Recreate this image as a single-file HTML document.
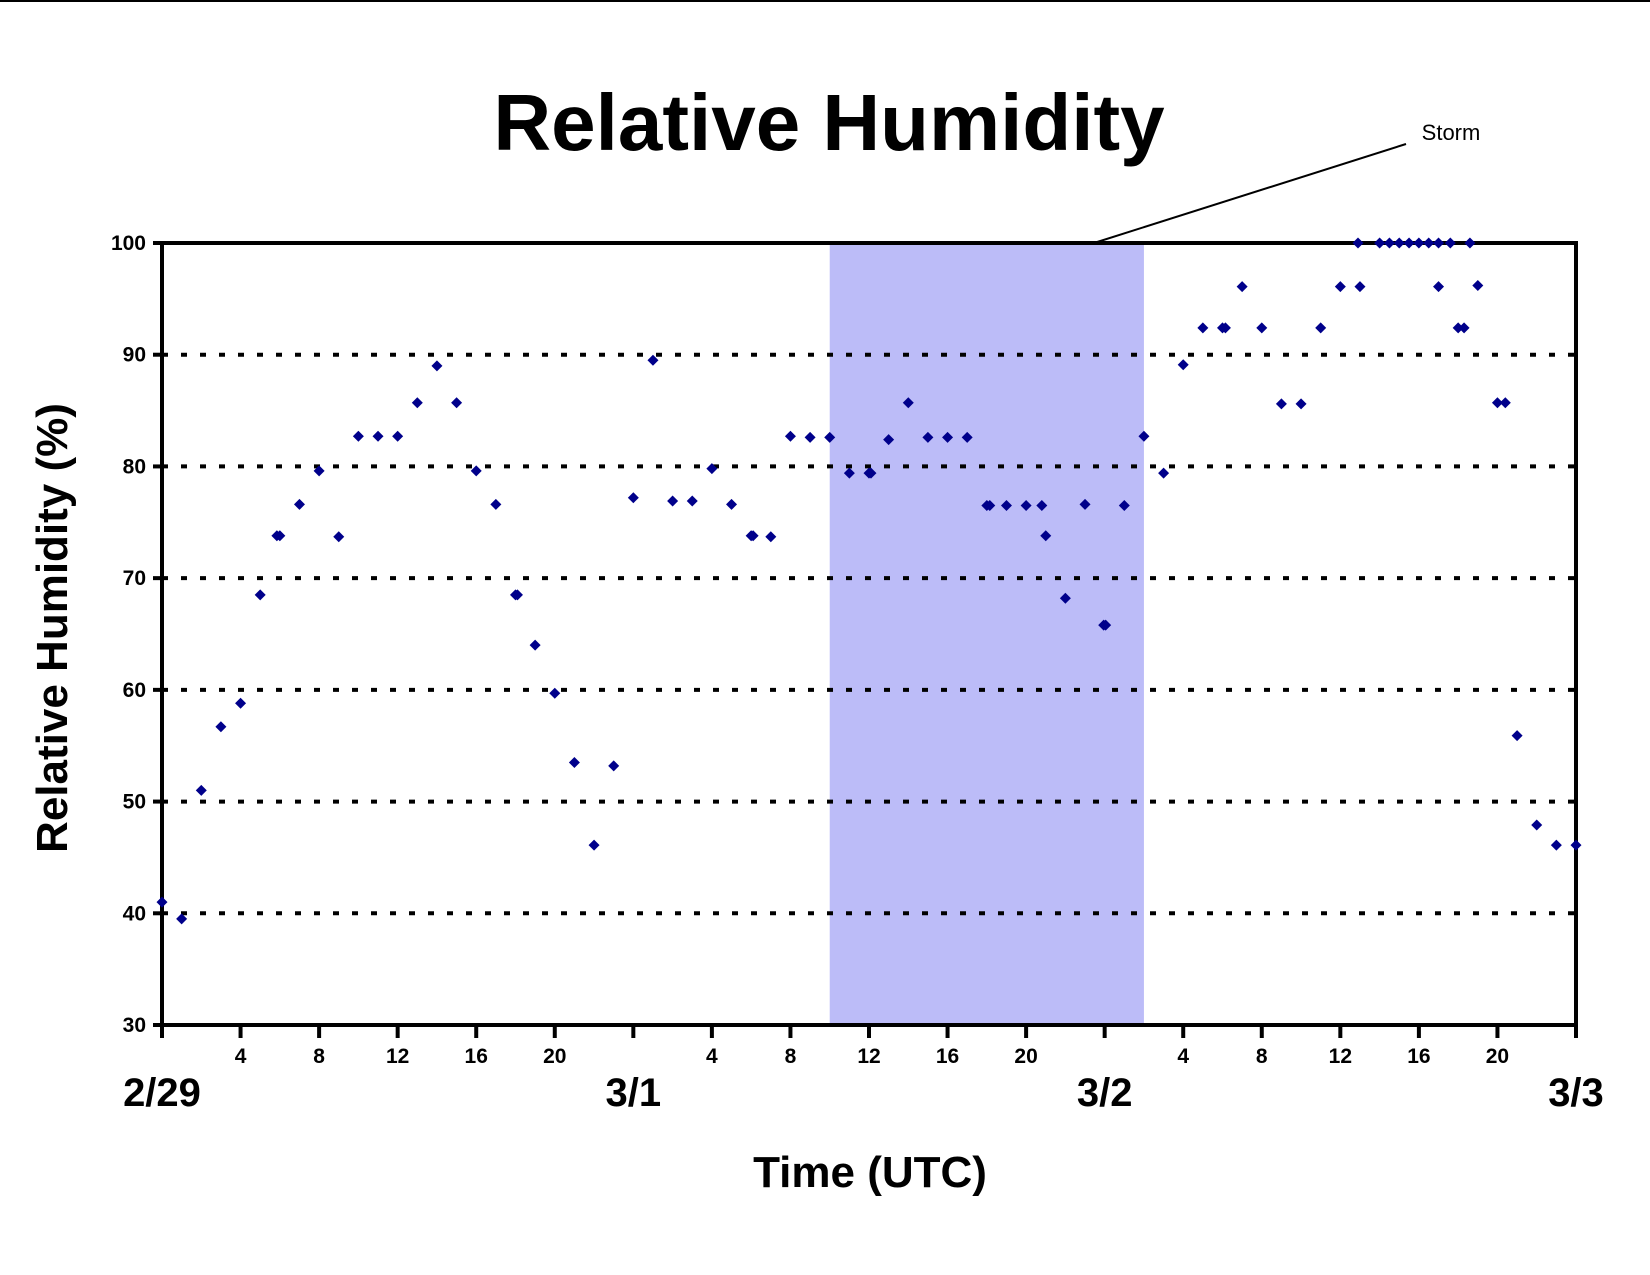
<!DOCTYPE html>
<html><head><meta charset="utf-8"><style>
html,body{margin:0;padding:0;background:#fff;}
svg{display:block;font-family:"Liberation Sans",Arial,sans-serif;}
</style></head><body>
<svg id="chart" width="1650" height="1275" viewBox="0 0 1650 1275">
<rect x="0" y="0" width="1650" height="2" fill="#000"/>
<text x="829" y="150" text-anchor="middle" font-size="80" font-weight="bold">Relative Humidity</text>
<g id="plot"></g>
<text x="1451" y="140" text-anchor="middle" font-size="22">Storm</text>
<line x1="1406" y1="144" x2="1094" y2="243" stroke="#000" stroke-width="2"/>
<text transform="translate(67,628) rotate(-90)" text-anchor="middle" font-size="44" font-weight="bold">Relative Humidity (%)</text>
<text x="870" y="1187" text-anchor="middle" font-size="44" font-weight="bold">Time (UTC)</text>
</svg>
<script>
const hours = [0,1,2,3,4,5,5.85,6,7,8,9,10,11,12,13,14,15,16,17,18,18.1,19,20,21,22,23,24,25,26,27,28,29,30,30.1,31,32,33,34,35,36,36.1,37,38,39,40,41,42,42.15,43,44,44.8,45,46,47,47.95,48.05,49,50,51,52,53,54,54.15,55,56,57,58,59,60,60.9,61,62,62.5,63,63.5,64,64.5,65,65,65.6,66,66.3,66.6,67,68,68.4,69,70,71,72];
const rh = [41,39.5,51,56.7,58.8,68.5,73.8,73.8,76.6,79.6,73.7,82.7,82.7,82.7,85.7,89,85.7,79.6,76.6,68.5,68.5,64,59.7,53.5,46.1,53.2,77.2,89.5,76.9,76.9,79.8,76.6,73.8,73.8,73.7,82.7,82.6,82.6,79.4,79.4,79.4,82.4,85.7,82.6,82.6,82.6,76.5,76.5,76.5,76.5,76.5,73.8,68.2,76.6,65.8,65.8,76.5,82.7,79.4,89.1,92.4,92.4,92.4,96.1,92.4,85.6,85.6,92.4,96.1,100,96.1,100,100,100,100,100,100,100,96.1,100,92.4,92.4,100,96.2,85.7,85.7,55.9,47.9,46.1,46.1];
const yTicks = [30,40,50,60,70,80,90,100];
const gridVals = [40,50,60,70,80,90];
const hourTickLabels = ["4","8","12","16","20"];
const dayLabels = ["2/29","3/1","3/2","3/3"];
const stormRange = [34,50];

const L=162,R=1576,T=243,B=1025;
const xS=h=>L+(h/72)*(R-L);
const yS=v=>B-(v-30)/70*(B-T);
const NS="http://www.w3.org/2000/svg";
const g=document.getElementById('plot');
function mk(tag,attrs){const e=document.createElementNS(NS,tag);for(const k in attrs)e.setAttribute(k,attrs[k]);g.appendChild(e);return e;}

let band=mk('rect',{x:xS(stormRange[0]),y:T,width:xS(stormRange[1])-xS(stormRange[0]),height:B-T,fill:'#bcbcf8'});



gridVals.forEach(v=>{
  const l=mk('line',{x1:L,x2:R,y1:yS(v),y2:yS(v),stroke:'#000','stroke-width':4,'stroke-dasharray':'6 13'});
  
  
});

yTicks.forEach(v=>{
  const t=mk('line',{x1:L-9,x2:L,y1:yS(v),y2:yS(v),stroke:'#000','stroke-width':4});
  
  
  const tx=mk('text',{x:L-16,y:yS(v)+7,'text-anchor':'end','font-size':21,'font-weight':'bold'});
  tx.textContent=v;
  
  
});

for(let d=0;d<3;d++){
  for(let k=0;k<6;k++){
    const h=d*24+k*4;
    const t=mk('line',{x1:xS(h),x2:xS(h),y1:B,y2:B+13,stroke:'#000','stroke-width':4});
    
    
    if(k>0){
      const tx=mk('text',{x:xS(h),y:B+38,'text-anchor':'middle','font-size':21,'font-weight':'bold'});
      tx.textContent=hourTickLabels[k-1];
      
      
    }
  }
}
let t72=mk('line',{x1:R,x2:R,y1:B,y2:B+13,stroke:'#000','stroke-width':4});



dayLabels.forEach((s,i)=>{
  const tx=mk('text',{x:xS(i*24),y:1106,'text-anchor':'middle','font-size':40,'font-weight':'bold'});
  tx.textContent=s;
  
  
});

let ax=mk('path',{d:`M${L},${T} L${R},${T} L${R},${B} L${L},${B} Z`,fill:'none',stroke:'#000','stroke-width':4});



hours.forEach((h,i)=>{
  const x=xS(h),y=yS(rh[i]),s=5.5;
  const p=mk('path',{d:`M${x},${y-s} L${x+s},${y} L${x},${y+s} L${x-s},${y} Z`,fill:'#00008b'});
  
  
});
</script>
</body></html>
